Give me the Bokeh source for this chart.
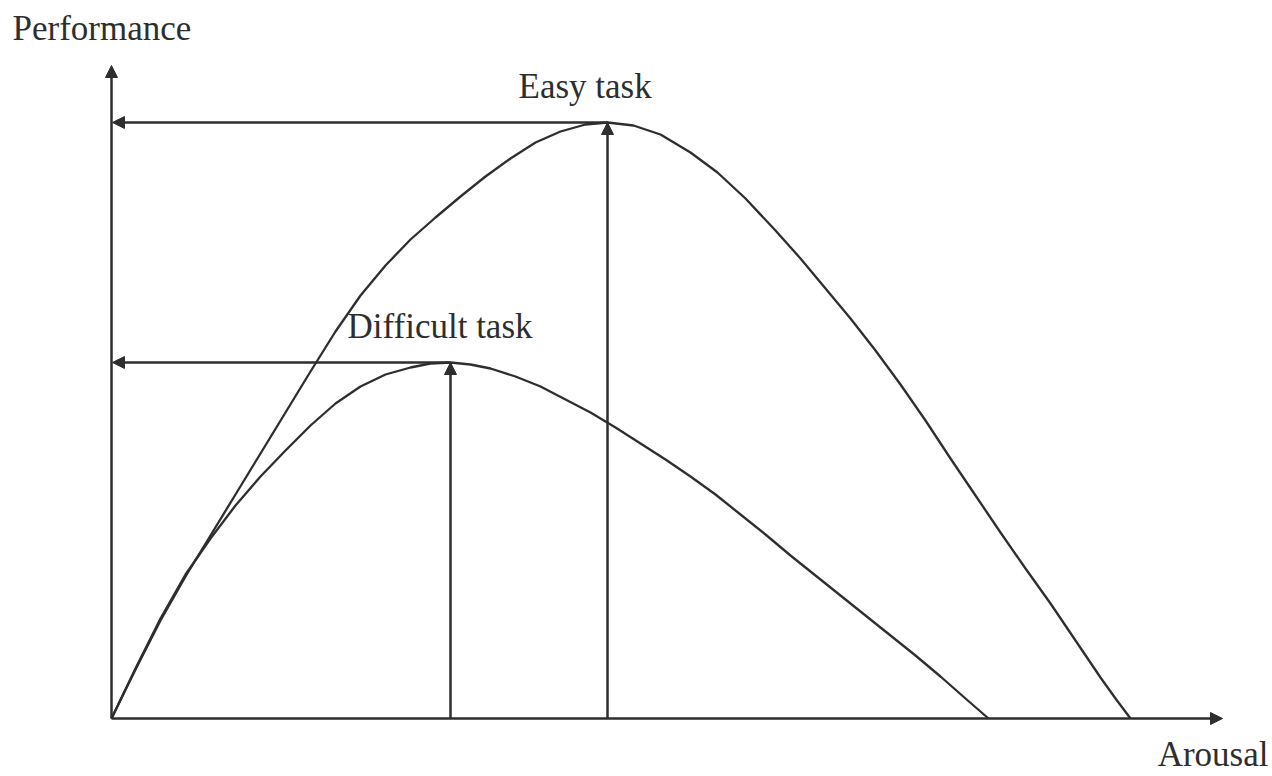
from bokeh.plotting import figure
from bokeh.models import Range1d, Arrow, NormalHead, ColumnDataSource
from bokeh.core.properties import value
from bokeh.embed import file_html
from bokeh.resources import INLINE

# ---- data (arousal / performance units) ----
easy_x = [0, 24, 49, 74, 99, 124, 149, 174, 199, 224, 249, 274, 299, 324,
          349, 374, 399, 424, 449, 474, 496, 522, 549, 579, 606, 634, 664,
          689, 714, 739, 764, 789, 814, 839, 864, 889, 914, 939, 964, 989,
          1004, 1019]
easy_y = [0, 49, 98, 142, 183, 224, 265, 306, 347, 387, 423, 453, 479, 501,
          522, 542, 560, 576, 587, 594, 596, 593, 584, 566, 546, 520, 488,
          460, 430, 400, 368, 334, 298, 260, 223, 186, 150, 115, 78, 41,
          20, 0]

hard_x = [0, 24, 49, 74, 99, 124, 149, 174, 199, 224, 249, 274, 299, 319,
          339, 359, 379, 404, 429, 454, 479, 504, 529, 554, 579, 604, 629,
          654, 679, 704, 729, 754, 779, 804, 829, 854, 877]
hard_y = [0, 50, 100, 144, 180, 213, 242, 268, 293, 315, 332, 344, 351, 355,
          356, 354, 350, 342, 332, 319, 306, 291, 275, 259, 242, 224, 204,
          184, 163, 143, 123, 103, 83, 63, 42, 20, 0]

easy_peak = (496, 596)
hard_peak = (339, 356)
x_axis_end = 1111
y_axis_end = 653

labels = ["Performance", "Easy task", "Difficult task", "Arousal"]
label_x = [-99, 407, 236, 1157]
label_y = [690, 632, 392, -36]
label_align = ["left", "left", "left", "right"]

INK = "#2e2e2e"
FONT = "Liberation Serif"

p = figure(width=1272, height=776, output_backend="svg", toolbar_location=None,
           x_range=Range1d(-111, 1161), y_range=Range1d(-58, 718),
           min_border=0, min_border_left=0, min_border_right=0,
           min_border_top=0, min_border_bottom=0)
p.axis.visible = False
p.grid.visible = False
p.outline_line_color = None
p.background_fill_color = "white"
p.border_fill_color = "white"

def arrow(x0, y0, x1, y1):
    p.add_layout(Arrow(end=NormalHead(size=12, fill_color=INK, line_color=INK, line_width=1),
                       x_start=x0, y_start=y0, x_end=x1, y_end=y1,
                       line_color=INK, line_width=2.5))

# axes
arrow(0, 0, 0, y_axis_end)
arrow(0, 0, x_axis_end, 0)

# curves
p.line(easy_x, easy_y, line_color=INK, line_width=2.3, line_join="round")
p.line(hard_x, hard_y, line_color=INK, line_width=2.3, line_join="round")

# peak arrows
for px, py in (easy_peak, hard_peak):
    arrow(px, py, 1, py)
    arrow(px, 0, px, py)

src = ColumnDataSource(dict(x=label_x, y=label_y, t=labels, a=label_align))
p.text(x="x", y="y", text="t", text_align="a", source=src,
       text_font=value(FONT), text_font_size="35px", text_color=INK,
       text_baseline="alphabetic")

open("out.html", "w").write(file_html(p, INLINE))
